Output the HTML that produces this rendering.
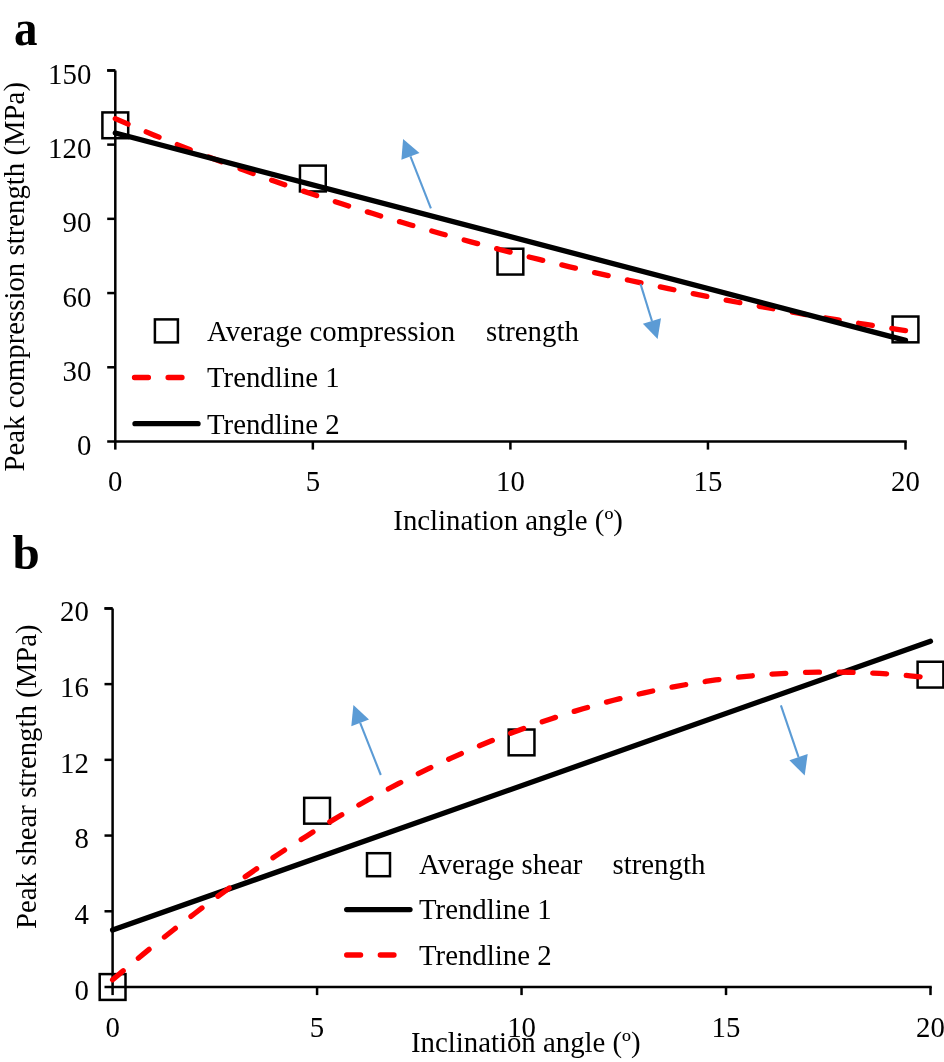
<!DOCTYPE html>
<html><head><meta charset="utf-8"><style>
html,body{margin:0;padding:0;background:#fff;width:944px;height:1062px;overflow:hidden}
svg{display:block;will-change:transform}
</style></head><body>
<svg width="944" height="1062" viewBox="0 0 944 1062">
<g font-family="Liberation Serif" font-size="28.8" fill="#000">
<text transform="translate(14.05,44.5) scale(0.96,1.02)" font-size="49" font-weight="bold">a</text>
<path d="M115.3,70.4 V441.5 H906.75 M107.2,70.4 H115.3" fill="none" stroke="#000" stroke-width="2.5"/>
<line x1="107.2" y1="441.50" x2="115.3" y2="441.50" stroke="#000" stroke-width="2.5"/>
<text x="91.3" y="455.10" text-anchor="end">0</text>
<line x1="107.2" y1="367.28" x2="115.3" y2="367.28" stroke="#000" stroke-width="2.5"/>
<text x="91.3" y="380.88" text-anchor="end">30</text>
<line x1="107.2" y1="293.06" x2="115.3" y2="293.06" stroke="#000" stroke-width="2.5"/>
<text x="91.3" y="306.66" text-anchor="end">60</text>
<line x1="107.2" y1="218.84" x2="115.3" y2="218.84" stroke="#000" stroke-width="2.5"/>
<text x="91.3" y="232.44" text-anchor="end">90</text>
<line x1="107.2" y1="144.62" x2="115.3" y2="144.62" stroke="#000" stroke-width="2.5"/>
<text x="91.3" y="158.22" text-anchor="end">120</text>
<line x1="107.2" y1="70.40" x2="115.3" y2="70.40" stroke="#000" stroke-width="2.5"/>
<text x="91.3" y="84.00" text-anchor="end">150</text>
<line x1="115.30" y1="441.5" x2="115.30" y2="449.6" stroke="#000" stroke-width="2.5"/>
<text x="115.30" y="490.8" text-anchor="middle">0</text>
<line x1="312.85" y1="441.5" x2="312.85" y2="449.6" stroke="#000" stroke-width="2.5"/>
<text x="312.85" y="490.8" text-anchor="middle">5</text>
<line x1="510.40" y1="441.5" x2="510.40" y2="449.6" stroke="#000" stroke-width="2.5"/>
<text x="510.40" y="490.8" text-anchor="middle">10</text>
<line x1="707.95" y1="441.5" x2="707.95" y2="449.6" stroke="#000" stroke-width="2.5"/>
<text x="707.95" y="490.8" text-anchor="middle">15</text>
<line x1="905.50" y1="441.5" x2="905.50" y2="449.6" stroke="#000" stroke-width="2.5"/>
<text x="905.50" y="490.8" text-anchor="middle">20</text>
<text x="393.3" y="530.3">Inclination angle (º)</text>
<text transform="translate(24,471.5) rotate(-90)">Peak compression strength (MPa)</text>
<rect x="102.40" y="112.42" width="25.80" height="25.80" fill="none" stroke="#000" stroke-width="2.5"/>
<rect x="299.95" y="165.61" width="25.80" height="25.80" fill="none" stroke="#000" stroke-width="2.5"/>
<rect x="497.50" y="248.74" width="25.80" height="25.80" fill="none" stroke="#000" stroke-width="2.5"/>
<rect x="892.60" y="316.53" width="25.80" height="25.80" fill="none" stroke="#000" stroke-width="2.5"/>
<path d="M115.30,118.64 L125.18,122.92 L135.06,127.14 L144.93,131.31 L154.81,135.43 L164.69,139.49 L174.56,143.49 L184.44,147.44 L194.32,151.34 L204.20,155.19 L214.07,158.99 L223.95,162.74 L233.83,166.43 L243.71,170.08 L253.59,173.68 L263.46,177.23 L273.34,180.74 L283.22,184.20 L293.10,187.61 L302.97,190.98 L312.85,194.30 L322.73,197.58 L332.61,200.81 L342.48,204.00 L352.36,207.15 L362.24,210.26 L372.12,213.33 L381.99,216.36 L391.87,219.34 L401.75,222.29 L411.62,225.20 L421.50,228.06 L431.38,230.89 L441.26,233.69 L451.14,236.44 L461.01,239.16 L470.89,241.85 L480.77,244.50 L490.65,247.11 L500.52,249.69 L510.40,252.23 L520.28,254.74 L530.15,257.22 L540.03,259.66 L549.91,262.07 L559.79,264.45 L569.67,266.80 L579.54,269.12 L589.42,271.40 L599.30,273.66 L609.17,275.89 L619.05,278.08 L628.93,280.25 L638.81,282.39 L648.68,284.50 L658.56,286.58 L668.44,288.64 L678.32,290.66 L688.20,292.66 L698.07,294.64 L707.95,296.59 L717.83,298.51 L727.70,300.40 L737.58,302.27 L747.46,304.12 L757.34,305.94 L767.22,307.74 L777.09,309.52 L786.97,311.27 L796.85,312.99 L806.72,314.70 L816.60,316.38 L826.48,318.04 L836.36,319.68 L846.24,321.29 L856.11,322.89 L865.99,324.46 L875.87,326.01 L885.75,327.54 L895.62,329.05 L905.50,330.55" stroke="#ff0000" stroke-width="5.3" stroke-linecap="round" stroke-dasharray="13.9 19.71" fill="none"/>
<path d="M115.30,133.04 L905.50,340.32" stroke="#000" stroke-width="5.3" stroke-linecap="round" fill="none"/>
<line x1="430.9" y1="208.4" x2="410.45" y2="156.45" stroke="#5b9bd5" stroke-width="2.1"/><polygon points="403.1,138.9 401.4,159.8 419.5,153.1" fill="#5b9bd5"/>
<line x1="640.5" y1="283.9" x2="651.95" y2="320.95" stroke="#5b9bd5" stroke-width="2.1"/><polygon points="657.6,339.0 642.9,323.7 661.0,318.2" fill="#5b9bd5"/>
<rect x="154.90" y="319.40" width="23.00" height="23.00" fill="none" stroke="#000" stroke-width="2.5"/>
<text x="207" y="341">Average compression</text>
<text x="486" y="341">strength</text>
<line x1="134.5" y1="377.5" x2="182.5" y2="377.5" stroke="#ff0000" stroke-width="5.3" stroke-linecap="round" stroke-dasharray="13.9 19.71"/>
<text x="207" y="387.4">Trendline 1</text>
<line x1="135" y1="423.7" x2="198" y2="423.7" stroke="#000" stroke-width="5.3" stroke-linecap="round"/>
<text x="207" y="433.6">Trendline 2</text>
<text x="12.6" y="568.5" font-size="49" font-weight="bold">b</text>
<path d="M112.6,608.4 V987.0 H931.75 M104.5,608.4 H112.6" fill="none" stroke="#000" stroke-width="2.5"/>
<line x1="104.5" y1="987.00" x2="112.6" y2="987.00" stroke="#000" stroke-width="2.5"/>
<text x="88.8" y="999.90" text-anchor="end">0</text>
<line x1="104.5" y1="911.28" x2="112.6" y2="911.28" stroke="#000" stroke-width="2.5"/>
<text x="88.8" y="924.18" text-anchor="end">4</text>
<line x1="104.5" y1="835.56" x2="112.6" y2="835.56" stroke="#000" stroke-width="2.5"/>
<text x="88.8" y="848.46" text-anchor="end">8</text>
<line x1="104.5" y1="759.84" x2="112.6" y2="759.84" stroke="#000" stroke-width="2.5"/>
<text x="88.8" y="772.74" text-anchor="end">12</text>
<line x1="104.5" y1="684.12" x2="112.6" y2="684.12" stroke="#000" stroke-width="2.5"/>
<text x="88.8" y="697.02" text-anchor="end">16</text>
<line x1="104.5" y1="608.40" x2="112.6" y2="608.40" stroke="#000" stroke-width="2.5"/>
<text x="88.8" y="621.30" text-anchor="end">20</text>
<line x1="112.60" y1="987.0" x2="112.60" y2="995.1" stroke="#000" stroke-width="2.5"/>
<text x="112.60" y="1036.6" text-anchor="middle">0</text>
<line x1="317.07" y1="987.0" x2="317.07" y2="995.1" stroke="#000" stroke-width="2.5"/>
<text x="317.07" y="1036.6" text-anchor="middle">5</text>
<line x1="521.55" y1="987.0" x2="521.55" y2="995.1" stroke="#000" stroke-width="2.5"/>
<text x="521.55" y="1036.6" text-anchor="middle">10</text>
<line x1="726.02" y1="987.0" x2="726.02" y2="995.1" stroke="#000" stroke-width="2.5"/>
<text x="726.02" y="1036.6" text-anchor="middle">15</text>
<line x1="930.50" y1="987.0" x2="930.50" y2="995.1" stroke="#000" stroke-width="2.5"/>
<text x="930.50" y="1036.6" text-anchor="middle">20</text>
<text x="411" y="1052.3">Inclination angle (º)</text>
<text transform="translate(35.8,929) rotate(-90)">Peak shear strength (MPa)</text>
<rect x="99.70" y="974.10" width="25.80" height="25.80" fill="none" stroke="#000" stroke-width="2.5"/>
<rect x="304.18" y="797.86" width="25.80" height="25.80" fill="none" stroke="#000" stroke-width="2.5"/>
<rect x="508.65" y="729.52" width="25.80" height="25.80" fill="none" stroke="#000" stroke-width="2.5"/>
<rect x="917.60" y="661.75" width="25.80" height="25.80" fill="none" stroke="#000" stroke-width="2.5"/>
<path d="M112.60,930.06 L930.50,641.26" stroke="#000" stroke-width="5.3" stroke-linecap="round" fill="none"/>
<path d="M112.60,979.83 L122.82,971.13 L133.05,962.56 L143.27,954.11 L153.50,945.79 L163.72,937.59 L173.94,929.52 L184.17,921.57 L194.39,913.74 L204.61,906.04 L214.84,898.47 L225.06,891.02 L235.28,883.69 L245.51,876.49 L255.73,869.41 L265.96,862.46 L276.18,855.63 L286.40,848.93 L296.63,842.35 L306.85,835.90 L317.07,829.57 L327.30,823.37 L337.52,817.29 L347.75,811.33 L357.97,805.50 L368.19,799.80 L378.42,794.21 L388.64,788.76 L398.87,783.43 L409.09,778.22 L419.31,773.14 L429.54,768.18 L439.76,763.35 L449.98,758.64 L460.21,754.06 L470.43,749.60 L480.65,745.26 L490.88,741.05 L501.10,736.97 L511.33,733.01 L521.55,729.17 L531.77,725.46 L542.00,721.87 L552.22,718.41 L562.44,715.08 L572.67,711.86 L582.89,708.78 L593.12,705.81 L603.34,702.98 L613.56,700.26 L623.79,697.67 L634.01,695.21 L644.24,692.87 L654.46,690.65 L664.68,688.56 L674.91,686.60 L685.13,684.76 L695.35,683.04 L705.58,681.45 L715.80,679.98 L726.02,678.64 L736.25,677.42 L746.47,676.33 L756.70,675.36 L766.92,674.52 L777.14,673.80 L787.37,673.20 L797.59,672.74 L807.81,672.39 L818.04,672.17 L828.26,672.07 L838.49,672.10 L848.71,672.26 L858.93,672.54 L869.16,672.94 L879.38,673.47 L889.61,674.12 L899.83,674.90 L910.05,675.80 L920.28,676.82 L930.50,677.97" stroke="#ff0000" stroke-width="5.3" stroke-linecap="round" stroke-dasharray="13.9 19.71" fill="none"/>
<line x1="380.8" y1="775.0" x2="360.15" y2="722.80" stroke="#5b9bd5" stroke-width="2.1"/><polygon points="353.4,705.0 351.3,726.2 369.0,719.4" fill="#5b9bd5"/>
<line x1="780.9" y1="705.3" x2="798.55" y2="757.20" stroke="#5b9bd5" stroke-width="2.1"/><polygon points="804.7,775.4 789.4,760.3 807.7,754.1" fill="#5b9bd5"/>
<rect x="367.00" y="853.20" width="23.00" height="23.00" fill="none" stroke="#000" stroke-width="2.5"/>
<text x="419" y="874.3">Average shear</text>
<text x="612.5" y="874.3">strength</text>
<line x1="346.7" y1="909.6" x2="410" y2="909.6" stroke="#000" stroke-width="5.3" stroke-linecap="round"/>
<text x="419" y="919.1">Trendline 1</text>
<line x1="346.7" y1="955" x2="394" y2="955" stroke="#ff0000" stroke-width="5.3" stroke-linecap="round" stroke-dasharray="13.9 19.71"/>
<text x="419" y="965">Trendline 2</text>
</g></svg>
</body></html>
